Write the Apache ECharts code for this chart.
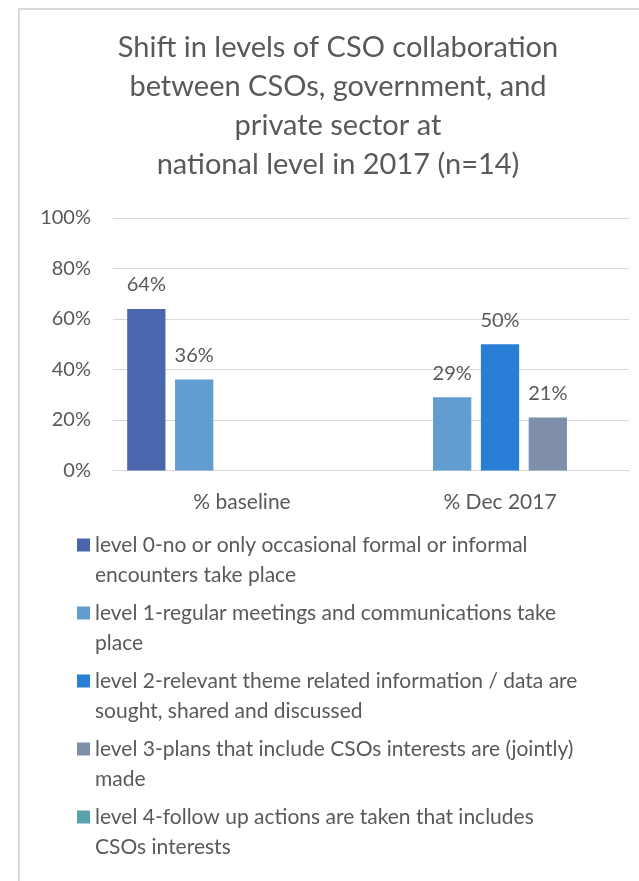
<!DOCTYPE html>
<html>
<head>
<meta charset="utf-8">
<script src="https://cdn.jsdelivr.net/npm/echarts@6/dist/echarts.min.js"></script>
<style>
  html, body { margin: 0; padding: 0; background: #ffffff; }
  #chart { width: 639px; height: 881px; }
</style>
</head>
<body>
<div id="chart"></div>
<script>
// Survey groups on the category axis
const categories = ['% baseline', '% Dec 2017'];

// Share of CSOs (%) at each collaboration level; null = no bar in that group
const level0 = [64, null];
const level1 = [36, 29];
const level2 = [null, 50];
const level3 = [null, 21];
const level4 = [null, null];

// Legend entries (line-broken as they appear in the legend)
const levelNames = [
  'level 0-no or only occasional formal or informal\nencounters take place',
  'level 1-regular meetings and communications take\nplace',
  'level 2-relevant theme related information / data are\nsought, shared and discussed',
  'level 3-plans that include CSOs interests are (jointly)\nmade',
  'level 4-follow up actions are taken that includes\nCSOs interests'
];
const levelColors = ['#4A66AC', '#629DD1', '#297FD5', '#7F8FA9', '#5AA2AE'];

const titleText = 'Shift in levels of CSO collaboration\nbetween CSOs, government, and\nprivate sector at\nnational level in 2017 (n=14)';

const FONT = 'Lato';
const TEXT = '#595959';
const GRID = '#D9D9D9';

const levelData = [level0, level1, level2, level3, level4];

const chart = echarts.init(document.getElementById('chart'), null, { renderer: 'canvas' });

chart.setOption({
  animation: false,
  backgroundColor: '#ffffff',
  title: {
    text: titleText,
    left: 338,
    top: 28,
    padding: 0,
    textAlign: 'center',
    textStyle: {
      fontFamily: FONT,
      fontSize: 29,
      fontWeight: 'normal',
      color: TEXT,
      lineHeight: 39
    }
  },
  // chart area frame
  graphic: [{
    type: 'rect',
    shape: { x: 19, y: 9, width: 700, height: 900 },
    style: { fill: 'none', stroke: GRID, lineWidth: 2 },
    silent: true
  }],
  grid: {
    left: 113,
    right: 10,
    top: 218,
    bottom: 410.5,
    containLabel: false
  },
  legend: {
    orient: 'vertical',
    left: 77,
    top: 530,
    padding: 0,
    itemGap: 8,
    itemWidth: 13,
    itemHeight: 60,
    icon: 'path://M0,0M0,8.5h13v13h-13zM13,60',
    selectedMode: false,
    textStyle: {
      fontFamily: FONT,
      fontSize: 21,
      color: TEXT,
      lineHeight: 30
    },
    data: levelNames
  },
  xAxis: {
    type: 'category',
    data: categories,
    axisLine: { show: true, lineStyle: { color: GRID, width: 1 } },
    axisTick: { show: false },
    axisLabel: {
      fontFamily: FONT,
      fontSize: 21,
      color: TEXT,
      margin: 21
    }
  },
  yAxis: {
    type: 'value',
    min: 0,
    max: 100,
    interval: 20,
    axisLine: { show: false },
    axisTick: { show: false },
    splitLine: { lineStyle: { color: GRID, width: 1 } },
    axisLabel: {
      formatter: '{value}%',
      fontFamily: FONT,
      fontSize: 20,
      color: TEXT,
      margin: 22
    }
  },
  series: levelNames.map((name, i) => ({
    type: 'bar',
    name: name,
    data: levelData[i],
    barGap: '25%',
    barCategoryGap: '11%',
    itemStyle: { color: levelColors[i] },
    label: {
      show: true,
      position: 'top',
      distance: 14,
      formatter: '{c}%',
      fontFamily: FONT,
      fontSize: 20,
      color: TEXT
    }
  }))
});
</script>
</body>
</html>
